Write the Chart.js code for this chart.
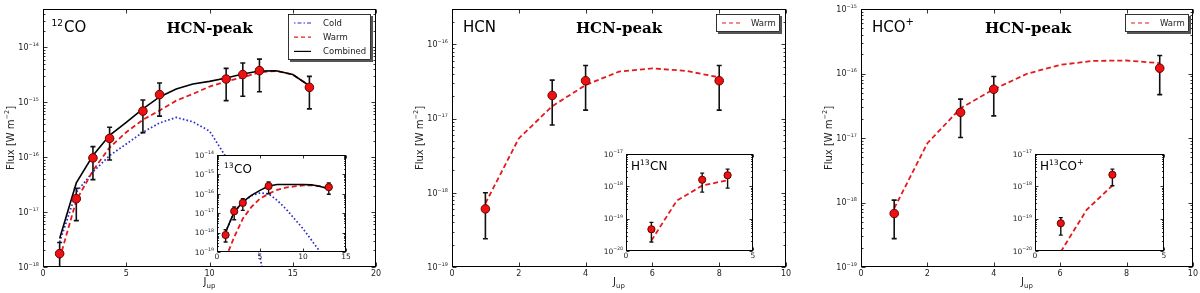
<!DOCTYPE html>
<html><head><meta charset="utf-8">
<script src="https://cdn.jsdelivr.net/npm/chart.js@4.4.0/dist/chart.umd.min.js"></script>
<style>
html,body{margin:0;padding:0;background:#fff;}
#wrap{position:relative;width:1200px;height:293px;overflow:hidden;background:#fff;}
canvas{position:absolute;}
</style></head><body>
<div id="wrap">
<canvas id="m1" width="400" height="293" style="left:0px;top:0px"></canvas>
<canvas id="m2" width="400" height="293" style="left:400px;top:0px"></canvas>
<canvas id="m3" width="400" height="293" style="left:800px;top:0px"></canvas>
<canvas id="i1" width="170" height="122" style="left:185px;top:145px"></canvas>
<canvas id="i2" width="175" height="122" style="left:590px;top:144px"></canvas>
<canvas id="i3" width="175" height="122" style="left:999px;top:144px"></canvas>
</div>
<script>
// ---------- DATA ----------
// 12CO (main panel 1)
const coJ      = [1, 2, 3, 4, 6, 7, 11, 12, 13, 16];
const coFlux   = [1.75e-18, 1.75e-17, 9.7e-17, 2.2e-16, 6.9e-16, 1.38e-15, 2.65e-15, 3.2e-15, 3.77e-15, 1.87e-15];
const coErrLo  = [5e-19, 7.0e-18, 3.9e-17, 8.9e-17, 2.8e-16, 5.6e-16, 1.07e-15, 1.29e-15, 1.56e-15, 7.6e-16];
const coErrHi  = [2.8e-18, 2.7e-17, 1.56e-16, 3.5e-16, 1.1e-15, 2.25e-15, 4.15e-15, 5.2e-15, 6.1e-15, 2.97e-15];
const coModelJ = [1, 2, 3, 4, 5, 6, 7, 8, 9, 10, 11, 12, 13, 14, 15, 16];
const coCold   = [2.85e-18, 2.3e-17, 5.4e-17, 1.07e-16, 1.74e-16, 2.85e-16, 4.2e-16, 5.3e-16, 4.4e-16, 3.0e-16, 1.0e-16, 1.8e-17, 1.7e-18, 5e-20, 1e-21, 1e-23];
const coWarm   = [1.42e-18, 1.63e-17, 5.7e-17, 1.5e-16, 2.85e-16, 4.8e-16, 7.1e-16, 1.07e-15, 1.42e-15, 1.93e-15, 2.4e-15, 2.85e-15, 3.5e-15, 3.72e-15, 3.2e-15, 2.0e-15];
const coComb   = [3.3e-18, 3.4e-17, 1.07e-16, 2.5e-16, 4.3e-16, 7.6e-16, 1.25e-15, 1.74e-15, 2.15e-15, 2.4e-15, 2.76e-15, 3.27e-15, 3.72e-15, 3.74e-15, 3.2e-15, 2.0e-15];
// 13CO (inset 1)
const c13J      = [1, 2, 3, 6, 13];
const c13Flux   = [7.5e-19, 1.25e-17, 3.4e-17, 2.5e-16, 2.2e-16];
const c13ErrLo  = [3.3e-19, 4.6e-18, 1.4e-17, 1.0e-16, 9.4e-17];
const c13ErrHi  = [1.4e-18, 2.1e-17, 5.6e-17, 4.05e-16, 3.6e-16];
const c13ModelJ = [1, 2, 3, 4, 5, 6, 7, 8, 9, 10, 11, 12, 13];
const c13Cold   = [1.07e-18, 1.15e-17, 3.7e-17, 8.0e-17, 1.1e-16, 1.0e-16, 4.6e-17, 1.7e-17, 5.2e-18, 1.6e-18, 4e-19, 1e-19, 2e-20];
const c13Warm   = [4.7e-20, 5.9e-19, 5.2e-18, 2.1e-17, 5.6e-17, 1.0e-16, 1.6e-16, 2.1e-16, 2.4e-16, 2.7e-16, 2.8e-16, 2.5e-16, 1.84e-16];
const c13Comb   = [1.07e-18, 1.15e-17, 3.8e-17, 8.3e-17, 1.5e-16, 2.5e-16, 3.0e-16, 3.0e-16, 3.0e-16, 3.0e-16, 2.9e-16, 2.4e-16, 1.84e-16];
// HCN (main panel 2)
const hcnJ      = [1, 3, 4, 8];
const hcnFlux   = [6.07e-19, 2.05e-17, 3.24e-17, 3.24e-17];
const hcnErrLo  = [2.4e-19, 8.2e-18, 1.3e-17, 1.3e-17];
const hcnErrHi  = [1.0e-18, 3.3e-17, 5.2e-17, 5.2e-17];
const hcnModelJ = [1, 2, 3, 4, 5, 6, 7, 8];
const hcnWarm   = [7.2e-19, 5.4e-18, 1.47e-17, 2.83e-17, 4.3e-17, 4.75e-17, 4.4e-17, 3.6e-17];
// H13CN (inset 2)
const h13cnJ      = [1, 3, 4];
const h13cnFlux   = [4.7e-20, 1.6e-18, 2.2e-18];
const h13cnErrLo  = [1.9e-20, 6.6e-19, 8.8e-19];
const h13cnErrHi  = [7.7e-20, 2.57e-18, 3.4e-18];
const h13cnModelJ = [1, 2, 3, 4];
const h13cnWarm   = [2.1e-20, 3.6e-19, 1.05e-18, 1.55e-18];
// HCO+ (main panel 3)
const hcopJ      = [1, 3, 4, 9];
const hcopFlux   = [6.75e-19, 2.5e-17, 5.7e-17, 1.21e-16];
const hcopErrLo  = [2.75e-19, 1.02e-17, 2.2e-17, 4.7e-17];
const hcopErrHi  = [1.09e-18, 4.0e-17, 9.0e-17, 1.9e-16];
const hcopModelJ = [1, 2, 3, 4, 5, 6, 7, 8, 9];
const hcopWarm   = [8.1e-19, 8.3e-18, 2.9e-17, 5.7e-17, 9.9e-17, 1.36e-16, 1.57e-16, 1.59e-16, 1.45e-16];
// H13CO+ (inset 3)
const h13copJ      = [1, 3];
const h13copFlux   = [7.2e-20, 2.28e-18];
const h13copErrLo  = [3.1e-20, 1.04e-18];
const h13copErrHi  = [1.08e-19, 3.4e-18];
const h13copModelJ = [1, 2, 3];
const h13copWarm   = [9.5e-21, 1.87e-19, 1.06e-18];

const titleText = 'HCN-peak';
const legendCold = 'Cold', legendWarm = 'Warm', legendComb = 'Combined';

// ---------- STYLE ----------
const FAM = '"DejaVu Sans", "Liberation Sans", sans-serif';
const SERIF = '"DejaVu Serif", "Liberation Serif", serif';
const RED = '#e31a1c', BLUE = '#2a2acc', BLACK = '#000000';
const PT_FILL = '#ee1111', PT_EDGE = '#6a0000';
const DASH_WARM = [5, 3], DASH_COLD = [1.6, 2.2];

function xy(xs, ys) { return xs.map((x, i) => ({x: x, y: ys[i]})); }

function lineDS(xs, ys, color, dash, w) {
  return {data: xy(xs, ys), showLine: true, borderColor: color, borderDash: dash, borderWidth: w,
          pointRadius: 0, fill: false, tension: 0, clip: 0};
}
function ptsDS(xs, ys, lo, hi, r) {
  return {data: xy(xs, ys), showLine: false, pointRadius: r, pointBackgroundColor: PT_FILL,
          pointBorderColor: PT_EDGE, pointBorderWidth: 1, errLo: lo, errHi: hi, clip: false};
}

function rich(ctx, parts, x, y) {
  let cx = x;
  for (const p of parts) {
    ctx.font = (p.b ? 'bold ' : '') + p.s + 'px ' + (p.f || FAM);
    ctx.fillText(p.t, cx, y + (p.dy || 0));
    cx += ctx.measureText(p.t).width + (p.gap || 0);
  }
  return cx - x;
}
function richWidth(ctx, parts) {
  let w = 0;
  for (const p of parts) {
    ctx.font = (p.b ? 'bold ' : '') + p.s + 'px ' + (p.f || FAM);
    w += ctx.measureText(p.t).width + (p.gap || 0);
  }
  return w;
}

function makeChart(id, c) {
  const el = document.getElementById(id);
  const W = el.width, H = el.height;
  const deco = {
    id: 'deco',
    beforeDraw(chart) {
      if (c.whiteBg) {
        const a = chart.chartArea, ctx = chart.ctx;
        ctx.save(); ctx.fillStyle = '#fff';
        ctx.fillRect(a.left, a.top, a.right - a.left, a.bottom - a.top);
        ctx.restore();
      }
    },
    beforeDatasetDraw(chart, args) {
      const ds = chart.data.datasets[args.index];
      if (!ds.errLo) return;
      const a = chart.chartArea, ctx = chart.ctx, xs = chart.scales.x, ys = chart.scales.y;
      ctx.save();
      ctx.beginPath(); ctx.rect(a.left, a.top, a.right - a.left, a.bottom - a.top); ctx.clip();
      ctx.strokeStyle = '#111'; ctx.lineWidth = c.errW;
      ds.data.forEach((p, i) => {
        const px = xs.getPixelForValue(p.x);
        const y1 = ys.getPixelForValue(ds.errLo[i]), y2 = ys.getPixelForValue(ds.errHi[i]);
        ctx.beginPath();
        ctx.moveTo(px, y1); ctx.lineTo(px, y2);
        ctx.moveTo(px - c.cap, y1); ctx.lineTo(px + c.cap, y1);
        ctx.moveTo(px - c.cap, y2); ctx.lineTo(px + c.cap, y2);
        ctx.stroke();
      });
      ctx.restore();
    },
    afterDraw(chart) {
      const a = chart.chartArea, ctx = chart.ctx, xs = chart.scales.x, ys = chart.scales.y;
      ctx.save();
      // frame
      ctx.strokeStyle = '#000'; ctx.lineWidth = 1;
      const L = Math.round(a.left) + 0.5, R = Math.round(a.right) - 0.5, T = Math.round(a.top) + 0.5, B = Math.round(a.bottom) - 0.5;
      ctx.strokeRect(L, T, R - L, B - T);
      // x major ticks (inward, top and bottom)
      ctx.lineWidth = 0.8;
      ctx.beginPath();
      xs.ticks.forEach(t => {
        const px = Math.round(xs.getPixelForValue(t.value)) + 0.5;
        ctx.moveTo(px, B); ctx.lineTo(px, B - c.tl);
        ctx.moveTo(px, T); ctx.lineTo(px, T + c.tl);
      });
      // y ticks (log) inward, left and right
      const e0 = Math.floor(Math.log10(c.yMin) + 1e-9), e1 = Math.ceil(Math.log10(c.yMax) - 1e-9);
      for (let e = e0; e <= e1; e++) {
        for (let k = 1; k <= 9; k++) {
          const v = k * Math.pow(10, e);
          if (v < c.yMin * 0.999 || v > c.yMax * 1.001) continue;
          const py = Math.round(ys.getPixelForValue(v)) + 0.5;
          const len = k === 1 ? c.tl : c.tl * 0.5;
          ctx.moveTo(L, py); ctx.lineTo(L + len, py);
          ctx.moveTo(R, py); ctx.lineTo(R - len, py);
        }
      }
      ctx.stroke();
      // y tick labels 10^e
      ctx.fillStyle = '#222'; ctx.textBaseline = 'alphabetic'; ctx.textAlign = 'left';
      for (let e = e0; e <= e1; e++) {
        const v = Math.pow(10, e);
        if (v < c.yMin * 0.999 || v > c.yMax * 1.001) continue;
        const py = ys.getPixelForValue(v);
        const parts = [{t: '10', s: c.yFont}, {t: '\u2212' + Math.abs(e), s: c.yFont * 0.62, dy: -c.yFont * 0.5}];
        const w = richWidth(ctx, parts);
        rich(ctx, parts, a.left - c.yGap - w, py + c.yFont * 0.36);
      }
      // axis titles
      if (c.axisTitles) {
        ctx.fillStyle = '#222';
        const yp = [{t: 'Flux [W m', s: 10}, {t: '\u22122', s: 6.5, dy: -5}, {t: ']', s: 10}];
        const wy = richWidth(ctx, yp);
        ctx.save();
        ctx.translate(c.yTitleX, (a.top + a.bottom) / 2);
        ctx.rotate(-Math.PI / 2);
        rich(ctx, yp, -wy / 2, 3.5);
        ctx.restore();
        const xp = [{t: 'J', s: 10}, {t: 'up', s: 7, dy: 3}];
        const wx = richWidth(ctx, xp);
        rich(ctx, xp, (a.left + a.right) / 2 - wx / 2, 285);
      }
      // free labels
      (c.texts || []).forEach(tx => {
        ctx.fillStyle = '#000';
        let x = tx.x;
        if (tx.center) x -= richWidth(ctx, tx.parts) / 2;
        rich(ctx, tx.parts, x, tx.y);
      });
      // legend
      if (c.legend) {
        const g = c.legend;
        ctx.fillStyle = '#555';
        ctx.fillRect(g.x + 2, g.y + 2, g.w, g.h);
        ctx.fillStyle = '#fff';
        ctx.fillRect(g.x, g.y, g.w, g.h);
        ctx.strokeStyle = '#000'; ctx.lineWidth = 0.8;
        ctx.strokeRect(g.x + 0.5, g.y + 0.5, g.w - 1, g.h - 1);
        g.items.forEach((it, i) => {
          const yy = g.y + g.row0 + i * g.dy;
          ctx.save();
          ctx.strokeStyle = it.color; ctx.lineWidth = it.w; ctx.setLineDash(it.dash);
          ctx.beginPath(); ctx.moveTo(g.x + g.lx0, yy); ctx.lineTo(g.x + g.lx1, yy); ctx.stroke();
          ctx.restore();
          ctx.fillStyle = '#222'; ctx.font = '8.5px ' + FAM;
          ctx.fillText(it.label, g.x + g.tx, yy + 3);
        });
      }
      ctx.restore();
    }
  };
  return new Chart(el, {
    type: 'scatter',
    data: {datasets: c.datasets},
    options: {
      responsive: false, animation: false, devicePixelRatio: 1, events: [],
      layout: {padding: {left: 0, top: c.area.t, right: W - c.area.r, bottom: 0}},
      plugins: {legend: {display: false}, tooltip: {enabled: false}, title: {display: false}},
      scales: {
        x: {type: 'linear', position: 'bottom', min: c.xMin, max: c.xMax,
            grid: {display: false, drawTicks: false}, border: {display: false},
            ticks: {stepSize: c.xStep, font: {family: 'DejaVu Sans', size: c.xFont}, color: '#222',
                    padding: c.xPad, maxRotation: 0, autoSkip: false},
            afterFit(s) { s.height = H - c.area.b; }},
        y: {type: 'logarithmic', position: 'left', min: c.yMin, max: c.yMax,
            grid: {display: false, drawTicks: false}, border: {display: false},
            ticks: {display: false},
            afterFit(s) { s.width = c.area.l; }}
      }
    },
    plugins: [deco]
  });
}

const mainTitle = (cx) => ({x: cx, y: 33, center: true, parts: [{t: titleText, s: 15, b: true, f: SERIF}]});

// Panel 1: 12CO
makeChart('m1', {
  area: {l: 43, r: 376, t: 9, b: 267}, xMin: 0, xMax: 20, xStep: 5, yMin: 1e-18, yMax: 5e-14,
  xFont: 8, xPad: 2, yFont: 8, yGap: 4, tl: 4, errW: 1.6, cap: 2.5, axisTitles: true, yTitleX: 10,
  datasets: [
    ptsDS(coJ, coFlux, coErrLo, coErrHi, 4.3),
    lineDS(coModelJ, coComb, BLACK, [], 1.6),
    lineDS(coModelJ, coWarm, RED, DASH_WARM, 1.8),
    lineDS(coModelJ, coCold, BLUE, DASH_COLD, 1.7)
  ],
  texts: [
    {x: 51.5, y: 31.5, parts: [{t: '12', s: 9, dy: -6, gap: 1}, {t: 'CO', s: 15}]},
    mainTitle(209.5)
  ],
  legend: {x: 288, y: 14, w: 83, h: 46, row0: 9, dy: 14.2, lx0: 6, lx1: 23, tx: 35,
           items: [{label: legendCold, color: BLUE, dash: [1.5, 2, 4, 2], w: 1.2},
                   {label: legendWarm, color: RED, dash: [4, 3], w: 1.2},
                   {label: legendComb, color: BLACK, dash: [], w: 1.2}]}
});
// Panel 2: HCN
makeChart('m2', {
  area: {l: 52, r: 386, t: 9, b: 267}, xMin: 0, xMax: 10, xStep: 2, yMin: 1e-19, yMax: 3e-16,
  xFont: 8, xPad: 2, yFont: 8, yGap: 4, tl: 4, errW: 1.6, cap: 2.5, axisTitles: true, yTitleX: 19,
  datasets: [
    ptsDS(hcnJ, hcnFlux, hcnErrLo, hcnErrHi, 4.3),
    lineDS(hcnModelJ, hcnWarm, RED, DASH_WARM, 1.8)
  ],
  texts: [
    {x: 63, y: 31.5, parts: [{t: 'HCN', s: 15}]},
    mainTitle(219)
  ],
  legend: {x: 316, y: 14, w: 64, h: 18, row0: 9, dy: 14, lx0: 6, lx1: 26, tx: 35,
           items: [{label: legendWarm, color: RED, dash: [4, 3], w: 1.2}]}
});
// Panel 3: HCO+
makeChart('m3', {
  area: {l: 61, r: 395, t: 9, b: 267}, xMin: 0, xMax: 10, xStep: 2, yMin: 1e-19, yMax: 1e-15,
  xFont: 8, xPad: 2, yFont: 8, yGap: 4, tl: 4, errW: 1.6, cap: 2.5, axisTitles: true, yTitleX: 28,
  datasets: [
    ptsDS(hcopJ, hcopFlux, hcopErrLo, hcopErrHi, 4.3),
    lineDS(hcopModelJ, hcopWarm, RED, DASH_WARM, 1.8)
  ],
  texts: [
    {x: 72, y: 31.5, parts: [{t: 'HCO', s: 15}, {t: '+', s: 10, dy: -7}]},
    mainTitle(228)
  ],
  legend: {x: 325, y: 14, w: 64, h: 18, row0: 9, dy: 14, lx0: 6, lx1: 26, tx: 35,
           items: [{label: legendWarm, color: RED, dash: [4, 3], w: 1.2}]}
});
// Inset 1: 13CO
makeChart('i1', {
  area: {l: 32, r: 161, t: 10, b: 107}, xMin: 0, xMax: 15, xStep: 5, yMin: 1e-19, yMax: 1e-14,
  xFont: 7.5, xPad: 1, yFont: 7.5, yGap: 3, tl: 3, errW: 1.4, cap: 2, whiteBg: true,
  datasets: [
    ptsDS(c13J, c13Flux, c13ErrLo, c13ErrHi, 3.6),
    lineDS(c13ModelJ, c13Comb, BLACK, [], 1.6),
    lineDS(c13ModelJ, c13Warm, RED, DASH_WARM, 1.8),
    lineDS(c13ModelJ, c13Cold, BLUE, DASH_COLD, 1.7)
  ],
  texts: [{x: 39, y: 28, parts: [{t: '13', s: 7.5, dy: -5, gap: 0.5}, {t: 'CO', s: 12}]}]
});
// Inset 2: H13CN
makeChart('i2', {
  area: {l: 36, r: 163, t: 10, b: 107}, xMin: 0, xMax: 5, xStep: 5, yMin: 1e-20, yMax: 1e-17,
  xFont: 7.5, xPad: 1, yFont: 7.5, yGap: 3, tl: 3, errW: 1.4, cap: 2, whiteBg: true,
  datasets: [
    ptsDS(h13cnJ, h13cnFlux, h13cnErrLo, h13cnErrHi, 3.6),
    lineDS(h13cnModelJ, h13cnWarm, RED, DASH_WARM, 1.8)
  ],
  texts: [{x: 41, y: 26, parts: [{t: 'H', s: 12}, {t: '13', s: 7.5, dy: -5, gap: 0.5}, {t: 'CN', s: 12}]}]
});
// Inset 3: H13CO+
makeChart('i3', {
  area: {l: 36, r: 165, t: 10, b: 107}, xMin: 0, xMax: 5, xStep: 5, yMin: 1e-20, yMax: 1e-17,
  xFont: 7.5, xPad: 1, yFont: 7.5, yGap: 3, tl: 3, errW: 1.4, cap: 2, whiteBg: true,
  datasets: [
    ptsDS(h13copJ, h13copFlux, h13copErrLo, h13copErrHi, 3.6),
    lineDS(h13copModelJ, h13copWarm, RED, DASH_WARM, 1.8)
  ],
  texts: [{x: 41, y: 26, parts: [{t: 'H', s: 12}, {t: '13', s: 7.5, dy: -5, gap: 0.5}, {t: 'CO', s: 12}, {t: '+', s: 8, dy: -5}]}]
});
</script>
</body></html>
